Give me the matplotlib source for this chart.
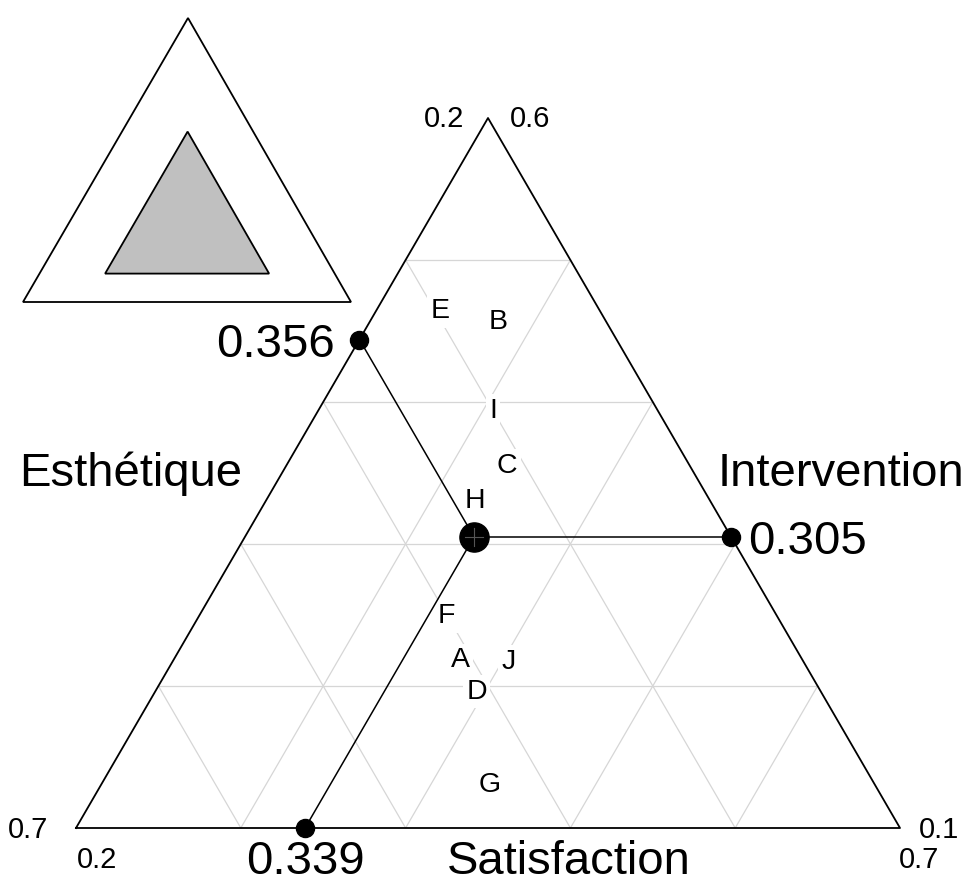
import matplotlib.pyplot as plt
import numpy as np

plt.rcParams['font.family'] = ['Liberation Sans', 'DejaVu Sans']

# three parts of the composition: Esthetique (left corner), Intervention (top), Satisfaction (right corner)
axis_names = ['Esthétique', 'Intervention', 'Satisfaction']
axis_min = [0.2, 0.1, 0.2]
axis_max = [0.7, 0.6, 0.7]
grid_levels = [0.1, 0.2, 0.3, 0.4]  # steps above the minimum of each axis

labels = ['A', 'B', 'C', 'D', 'E', 'F', 'G', 'H', 'I', 'J']
esthetique = [0.408, 0.266, 0.311, 0.409, 0.297, 0.401, 0.434, 0.343, 0.300, 0.379]
intervention = [0.218, 0.456, 0.355, 0.196, 0.464, 0.249, 0.130, 0.330, 0.394, 0.217]
satisfaction = [0.374, 0.278, 0.334, 0.395, 0.239, 0.350, 0.436, 0.327, 0.306, 0.404]
mean_point = [0.356, 0.305, 0.339]

# layout of the two triangles in pixel space (left, top, right corners)
main_tri = np.array([[76, 828], [488, 118], [900, 828]], dtype=float)
inset_tri = np.array([[23, 302], [188, 18], [351, 302]], dtype=float)


def to_xy(comp, tri, mins, span):
    comp = np.atleast_2d(np.asarray(comp, dtype=float))
    frac = (comp - np.asarray(mins)) / span
    return frac @ tri


def main_xy(comp):
    return to_xy(comp, main_tri, axis_min, 0.5)


fig = plt.figure(figsize=(9.66, 8.85), dpi=100)
ax = fig.add_axes([0, 0, 1, 1])
ax.set_xlim(0, 966)
ax.set_ylim(885, 0)
ax.axis('off')

# grid lines of the zoomed triangle
for k in range(3):
    j, m = [i for i in range(3) if i != k]
    for d in grid_levels:
        lev = axis_min[k] + d
        p1 = [0, 0, 0]
        p1[k] = lev
        p1[j] = axis_min[j]
        p1[m] = 1 - lev - axis_min[j]
        p2 = [0, 0, 0]
        p2[k] = lev
        p2[m] = axis_min[m]
        p2[j] = 1 - lev - axis_min[m]
        xy = main_xy([p1, p2])
        ax.plot(xy[:, 0], xy[:, 1], color='#d6d6d6', lw=0.9, zorder=1)

# point labels, white box hides the grid behind them
pts = main_xy(np.column_stack([esthetique, intervention, satisfaction]))
for lab, (x, y) in zip(labels, pts):
    ax.text(x, y, lab, fontsize=20.5, ha='center', va='center', zorder=2,
            bbox=dict(facecolor='white', edgecolor='none', pad=2.5))

# outline of the main triangle
closed = np.vstack([main_tri, main_tri[:1]])
ax.plot(closed[:, 0], closed[:, 1], color='black', lw=1.3, zorder=3)

# mean point and its projections on the three sides
mxy = main_xy(mean_point)[0]
proj = [
    [mean_point[0], 1 - mean_point[0] - axis_min[2], axis_min[2]],  # left side
    [axis_min[0], mean_point[1], 1 - mean_point[1] - axis_min[0]],  # right side
    [1 - mean_point[2] - axis_min[1], axis_min[1], mean_point[2]],  # bottom
]
proj_xy = main_xy(proj)
for px, py in proj_xy:
    ax.plot([mxy[0], px], [mxy[1], py], color='black', lw=1.1, zorder=3)
ax.plot(proj_xy[:, 0], proj_xy[:, 1], 'o', color='black', ms=13, zorder=4)
ax.plot(mxy[0], mxy[1], 'o', color='black', ms=21, zorder=4)
ax.plot([mxy[0] - 9, mxy[0] + 9], [mxy[1], mxy[1]], color='#555555', lw=0.8, zorder=5)
ax.plot([mxy[0], mxy[0]], [mxy[1] - 9, mxy[1] + 9], color='#555555', lw=0.8, zorder=5)

big = 34
ax.text(proj_xy[0, 0] - 25, proj_xy[0, 1] + 5, f'{mean_point[0]:.3f}', fontsize=big,
        ha='right', va='center')
ax.text(proj_xy[1, 0] + 17, proj_xy[1, 1] + 5, f'{mean_point[1]:.3f}', fontsize=big,
        ha='left', va='center')
ax.text(proj_xy[2, 0], proj_xy[2, 1] + 34, f'{mean_point[2]:.3f}', fontsize=big,
        ha='center', va='center')

# axis names
left_mid = (main_tri[0] + main_tri[1]) / 2
right_mid = (main_tri[1] + main_tri[2]) / 2
bottom_mid = (main_tri[0] + main_tri[2]) / 2
ax.text(left_mid[0] - 40, left_mid[1] + 1, axis_names[0], fontsize=big, ha='right', va='center')
ax.text(right_mid[0] + 24, right_mid[1] + 1, axis_names[1], fontsize=big, ha='left', va='center')
ax.text(bottom_mid[0] + 81, bottom_mid[1] + 34, axis_names[2], fontsize=big, ha='center', va='center')

# range limits at the corners
small = 21
bl, top, br = main_tri
ax.text(top[0] - 44, top[1] + 1, f'{axis_min[0]:.1f}', fontsize=small, ha='center', va='center')
ax.text(top[0] + 42, top[1] + 1, f'{axis_max[1]:.1f}', fontsize=small, ha='center', va='center')
ax.text(bl[0] - 48, bl[1] + 2, f'{axis_max[0]:.1f}', fontsize=small, ha='center', va='center')
ax.text(bl[0] + 21, bl[1] + 32, f'{axis_min[2]:.1f}', fontsize=small, ha='center', va='center')
ax.text(br[0] + 39, br[1] + 2, f'{axis_min[1]:.1f}', fontsize=small, ha='center', va='center')
ax.text(br[0] + 19, br[1] + 32, f'{axis_max[2]:.1f}', fontsize=small, ha='center', va='center')

# inset: full simplex with the zoomed region in grey
ax.add_patch(plt.Polygon(inset_tri, closed=True, facecolor='white', edgecolor='black', lw=1.3))
zoom_region = [
    [axis_max[0], axis_min[1], axis_min[2]],
    [axis_min[0], axis_max[1], axis_min[2]],
    [axis_min[0], axis_min[1], axis_max[2]],
]
zxy = to_xy(zoom_region, inset_tri, [0, 0, 0], 1.0)
ax.add_patch(plt.Polygon(zxy, closed=True, facecolor='#c0c0c0', edgecolor='black', lw=1.3))

fig.savefig('out.png', dpi=100)
